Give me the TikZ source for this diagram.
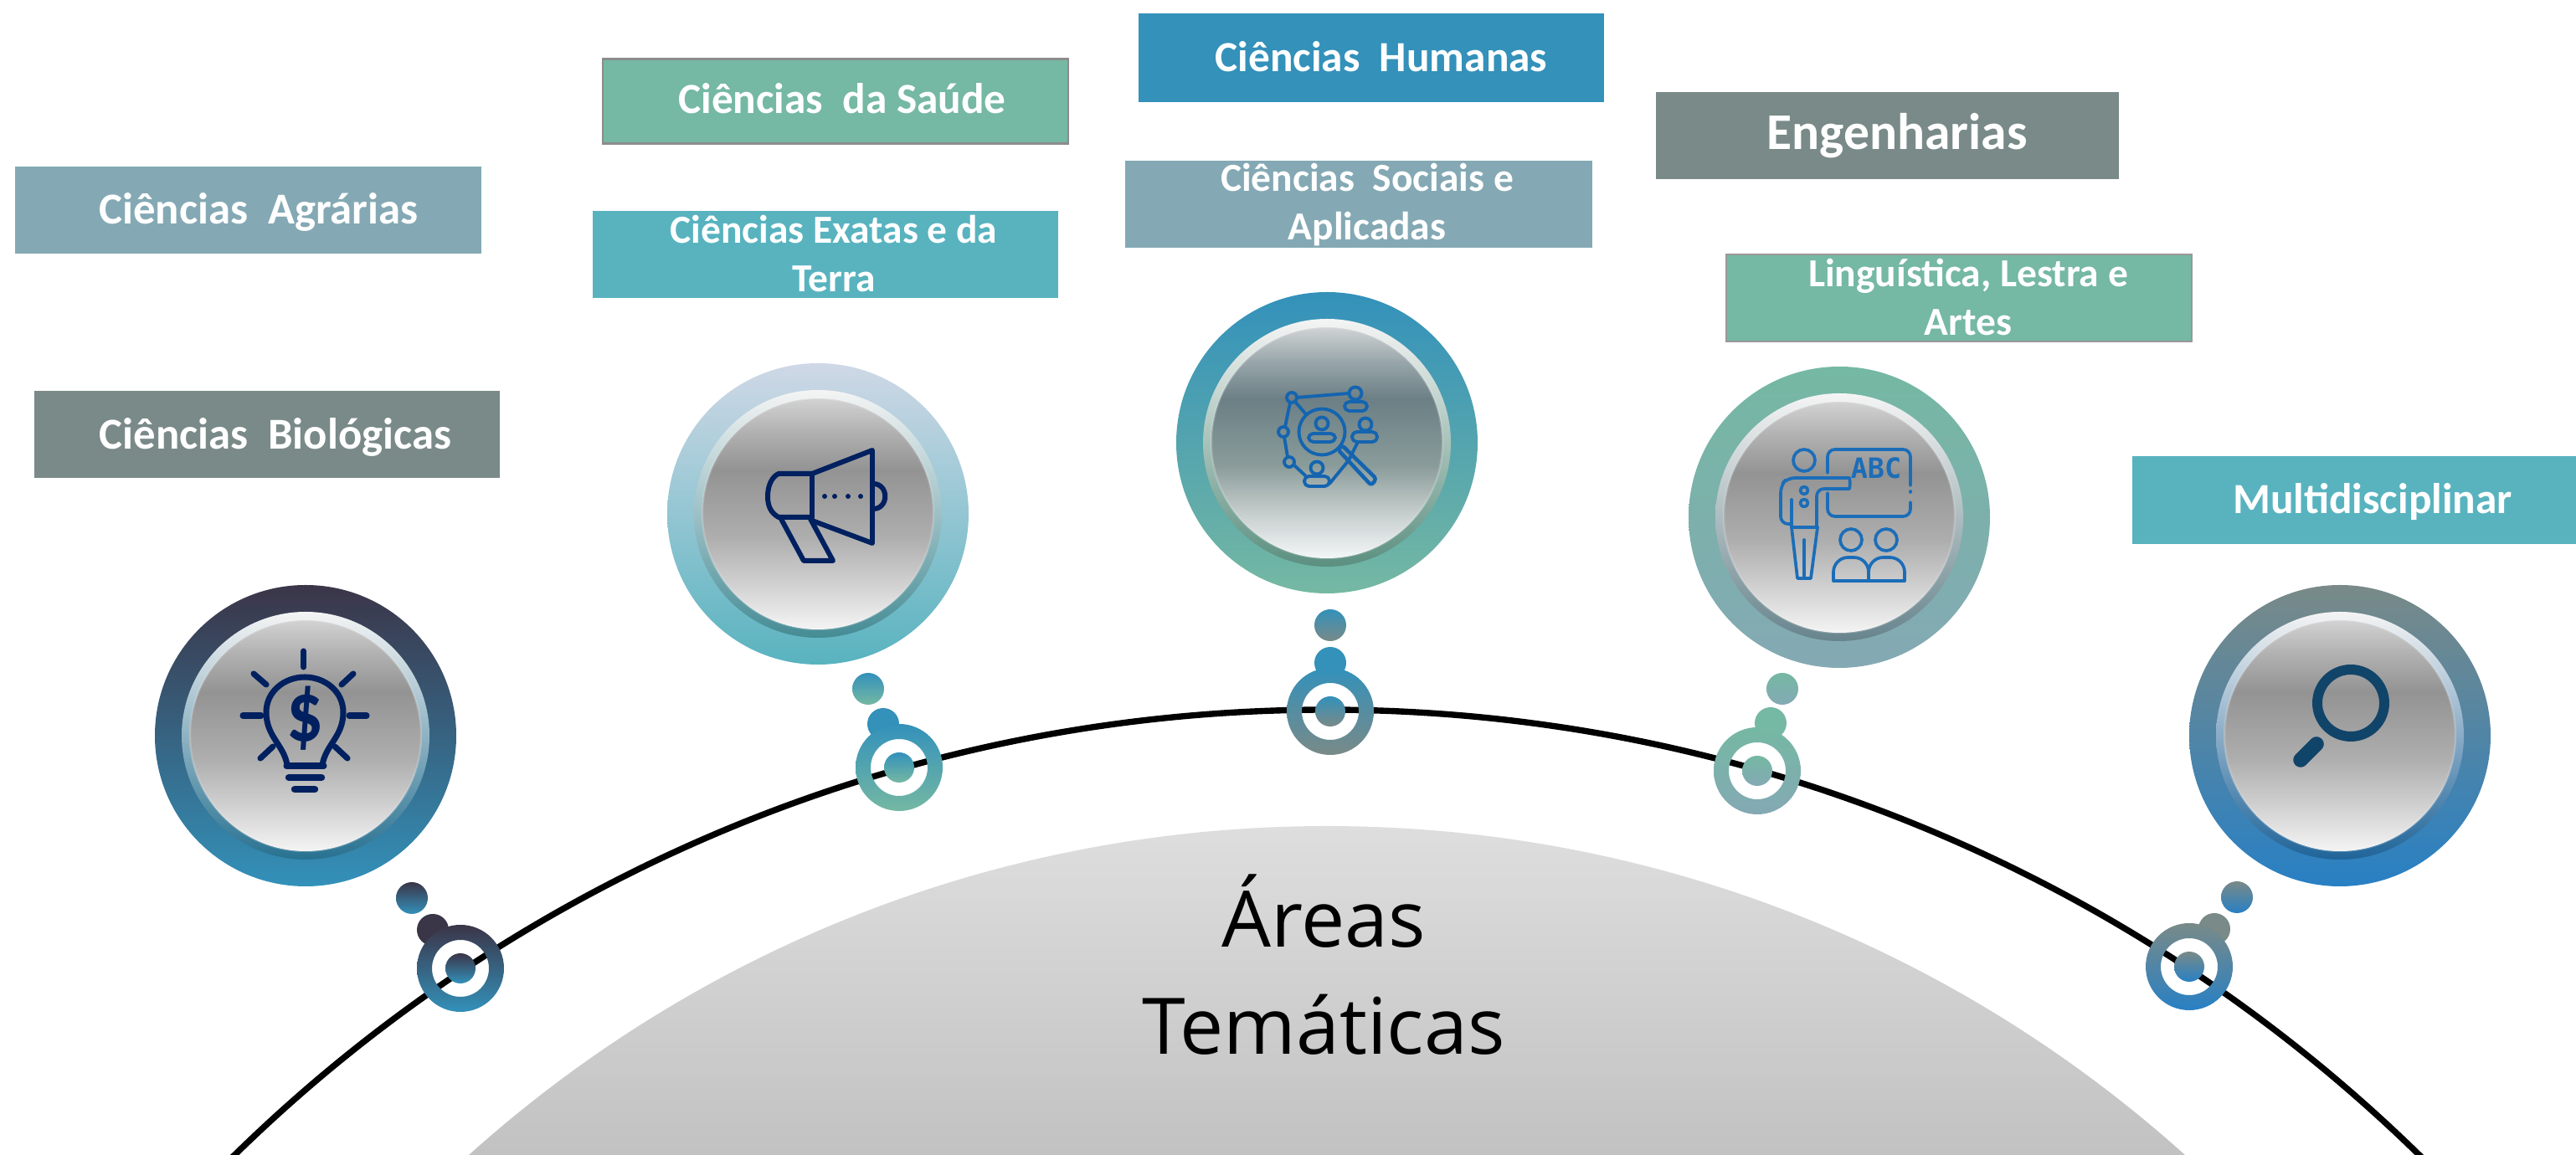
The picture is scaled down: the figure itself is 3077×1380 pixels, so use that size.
\documentclass[tikz,border=0pt]{standalone}
\usepackage{fontspec}
\setmainfont{Carlito}
\newfontfamily\areafont{Open Sans}
\newfontfamily\abcfont{DejaVu Sans Mono}
\definecolor{cDark}{HTML}{3B3548}
\definecolor{cBlue}{HTML}{3391BA}
\definecolor{cPale}{HTML}{CFD8E6}
\definecolor{cTeal}{HTML}{58B3BF}
\definecolor{cGreen}{HTML}{75B8A3}
\definecolor{cSlate}{HTML}{84A9B4}
\definecolor{cGrey}{HTML}{798A88}
\definecolor{cStrong}{HTML}{2880C4}
\definecolor{cNavy}{HTML}{00205F}
\definecolor{cNet}{HTML}{1464B0}
\definecolor{cTeach}{HTML}{1B6DB8}
\definecolor{cLens}{HTML}{114469}
\definecolor{bA}{HTML}{F4F4F4}
\definecolor{bB}{HTML}{D0D0D0}
\definecolor{bC}{HTML}{AEAEAE}
\definecolor{bD}{HTML}{939393}
\definecolor{bE}{HTML}{B0B0B0}
\definecolor{bF}{HTML}{D2D2D2}
\definecolor{tA}{HTML}{F3F6F6}
\definecolor{tB}{HTML}{C5CDCC}
\definecolor{tC}{HTML}{8A9C9A}
\definecolor{tD}{HTML}{6B7F85}
\definecolor{tE}{HTML}{98A6AA}
\definecolor{tF}{HTML}{D0D3D5}
\definecolor{rimMid}{HTML}{8E9A9E}
\pgfdeclareverticalshading{btngrey}{100bp}{color(0bp)=(bA);color(25bp)=(bA);color(35bp)=(bB);color(45bp)=(bC);color(59.5bp)=(bD);color(67.5bp)=(bE);color(75bp)=(bF);color(100bp)=(bF)}
\pgfdeclareverticalshading{btntint}{100bp}{color(0bp)=(tA);color(25bp)=(tA);color(35bp)=(tB);color(45bp)=(tC);color(59.5bp)=(tD);color(67.5bp)=(tE);color(75bp)=(tF);color(100bp)=(tF)}
\tikzset{
  boxst/.style={rectangle,draw=none,inner sep=0pt,outer sep=0pt},
  boxedge/.style={boxst,draw=#1,line width=.6pt},
  lbl/.style={text=white,font=\fontsize{14.6}{16.5}\selectfont\bfseries,inner sep=0pt,anchor=base,align=center},
  lblwide/.style={text=white,font=\fontsize{15}{16.5}\selectfont\bfseries,inner sep=0pt,anchor=base},
  lblbig/.style={text=white,font=\fontsize{17.5}{18}\selectfont\bfseries,inner sep=0pt,anchor=base},
  lbltwo/.style={text=white,font=\fontsize{13.5}{16.5}\selectfont\bfseries,inner sep=0pt,anchor=center,align=center},
  ttl/.style={text=black,font=\areafont\fontsize{26.5}{30}\selectfont,inner sep=0pt,anchor=base},
  ico/.style={line width=#1,line cap=round,line join=round},
}
\newcommand\bigring[6]{%
  \shade[top color=#3,bottom color=#4] (#1,#2) circle (180);
  \shade[top color=bA,middle color=rimMid,bottom color=#5!78!black] (#1,#2) circle (148);
  \shade[shading=#6] (#1,#2) circle (138);
  \draw[white,opacity=.2,line width=.7pt] (#1,#2) circle (138);
}
\newcommand\smallring[8]{%
  \fill[#7] (#3,#4) circle (19);
  \shade[even odd rule,top color=#7,bottom color=#8] (#1,#2) circle (52) circle (34);
  \shade[top color=#7,bottom color=#8] (#1,#2) circle (18);
  \shade[top color=#7,bottom color=#8] (#5,#6) circle (19);
}
\newcommand\netperson[6]{%
  \draw (#1,#2) circle (7.5);
  \draw[rounded corners=1.6pt] (#3,#6) -- (#4,#6) -- (#4,#5) -- (#3,#5) -- cycle;
}
\begin{document}
\begin{tikzpicture}[x=0.01cm,y=-0.01cm]
\useasboundingbox (0,0) rectangle (3077,1380);
\begin{scope}
\clip (0,0) rectangle (3077,1380);
% dome and arc
\begin{scope}
\clip (1585,2520) circle (1533);
\shade[top color=black!13,bottom color=black!24] (500,987) rectangle (2680,1380);
\end{scope}
\draw[black,line width=2.1pt] (1585,2714) circle (1866);
\end{scope}
\node[ttl] (tA) at (1581,1132) {Áreas};
\node[ttl] (tB) at (1581,1260) {Temáticas};

% boxes
\node[boxst,fill=cSlate,minimum width=5.57cm,minimum height=1.04cm] (bAgr) at (296.5,251) {};
\node[boxst,fill=cGrey,minimum width=5.56cm,minimum height=1.04cm] (bBio) at (319,519) {};
\node[boxedge=black!45,fill=cGreen,minimum width=5.56cm,minimum height=1.01cm] (bSau) at (998,121) {};
\node[boxst,fill=cTeal,minimum width=5.56cm,minimum height=1.03cm] (bExa) at (986,304) {};
\node[boxst,fill=cBlue,minimum width=5.56cm,minimum height=1.06cm] (bHum) at (1638,69) {};
\node[boxst,fill=cSlate,minimum width=5.58cm,minimum height=1.04cm] (bSoc) at (1623,244) {};
\node[boxst,fill=cGrey,minimum width=5.53cm,minimum height=1.04cm] (bEng) at (2254.5,162) {};
\node[boxedge=black!40,fill=cGreen,minimum width=5.56cm,minimum height=1.04cm] (bLin) at (2340,356) {};
\node[boxst,fill=cTeal,minimum width=5.35cm,minimum height=1.05cm] (bMul) at (2814.5,597.5) {};

\node[lblwide] (lAgr) at (309,268) {Ciências\ \ Agrárias};
\node[lblwide] (lBio) at (329,537) {Ciências\ \ Biológicas};
\node[lbl] (lSau) at (1006,136) {Ciências\ \ da Saúde};
\node[lbltwo] (lExa) at (996,303) {Ciências Exatas e da\\Terra};
\node[lbl] (lHum) at (1650,86) {Ciências\ \ Humanas};
\node[lbltwo] (lSoc) at (1633,245) {Ciências\ \ Sociais e\\Aplicadas};
\node[lblbig] (lEng) at (2266,179) {Engenharias};
\node[lbltwo] (lLin) at (2351,355) {Linguística, Lestra e\\Artes};
\node[lbl] (lMul) at (2834,614) {Multidisciplinar};

% rings
\bigring{365}{879}{cDark}{cBlue}{cBlue}{btngrey}
\bigring{977}{614}{cPale}{cTeal}{cTeal}{btngrey}
\bigring{1585}{529}{cBlue}{cGreen}{cGreen}{btntint}
\bigring{2197}{618}{cGreen}{cSlate}{cSlate}{btngrey}
\bigring{2795}{879}{cGrey}{cStrong}{cStrong}{btngrey}

\smallring{550}{1157}{517}{1111}{492}{1073}{cDark}{cBlue}
\smallring{1074}{917}{1055}{865}{1037}{823}{cBlue}{cGreen}
\smallring{1589}{850}{1589}{792}{1589}{747}{cBlue}{cGrey}
\smallring{2099}{921}{2115}{864}{2129}{823}{cGreen}{cSlate}
\smallring{2615}{1155}{2645}{1110}{2672}{1072}{cGrey}{cStrong}

% bulb icon
\begin{scope}[draw=cNavy,ico=2pt]
\draw (362.7,778) -- (362.7,797);
\draw (303,805) -- (318,818);
\draw (422,805) -- (408,818);
\draw (290,855) -- (312,855);
\draw (417,855) -- (438,855);
\draw (311,906) -- (326,892);
\draw (415,906) -- (400,892);
\draw (343,914) .. controls (339,890) and (318,880) .. (318,851)
      .. controls (318,826) and (340,809) .. (364,809)
      .. controls (388,809) and (410,826) .. (410,851)
      .. controls (410,880) and (389,890) .. (385,914);
\draw (342,915) -- (387,915);
\draw[line width=2.4pt] (345,929) -- (384,929);
\draw[line width=2.4pt] (352,943) -- (376,943);
\end{scope}
\node[text=cNavy,font=\fontsize{29}{29}\selectfont\bfseries,inner sep=0pt,xscale=.85] (dol) at (364,858) {\$};

% megaphone icon
\begin{scope}[draw=cNavy,ico=1.7pt]
\draw (970,566) -- (1042,538) -- (1042,649) -- (970,622);
\draw (970,566) -- (970,618);
\draw (970,566) -- (930,566) .. controls (921,570) and (917,582) .. (917,593)
      .. controls (917,605) and (921,613) .. (930,618) -- (970,618);
\draw (933,620) -- (960,670) -- (995,670) -- (968,620);
\draw (1043,578) .. controls (1062,578) and (1062,608) .. (1043,608);
\end{scope}
\foreach \dx in {985,997,1013,1028} \fill[cNavy] (\dx,593) circle (3);

% network icon
\begin{scope}[draw=cNet,ico=1.1pt]
\draw (1543,475) circle (6);
\draw (1533,516) circle (6);
\draw (1540,552) circle (6);
\draw (1579,516) circle (27.5);
\draw[line width=1.3pt,rounded corners=1pt] (1598,537) -- (1603,532) -- (1644,572) -- (1638,580) -- cycle;
\netperson{1579}{506}{1563}{1595}{518}{528}
\netperson{1619}{470}{1606}{1633}{480}{491}
\netperson{1631}{507}{1615}{1645}{516}{528}
\netperson{1573}{559}{1558}{1588}{569}{581}
\draw (1549,475) -- (1611,470);
\draw (1547,480) -- (1560,495);
\draw (1541,481) -- (1535,510);
\draw (1534,522) -- (1538,546);
\draw (1546,556) -- (1560,569);
\draw (1588,578) -- (1611,550) -- (1622,528);
\end{scope}

% teacher icon
\begin{scope}[draw=cTeach,ico=1.05pt]
\draw (2155,550) circle (13);
\draw[rounded corners=2.5pt] (2183,565) -- (2183,537) -- (2282,537) -- (2282,580);
\draw (2282,587) -- (2282,588);
\draw[rounded corners=2.5pt] (2282,600) -- (2282,617) -- (2183,617) -- (2183,589);
\draw[rounded corners=2.5pt] (2170,630) -- (2170,584) -- (2200,584)
      .. controls (2210,584) and (2210,571) .. (2200,571) -- (2135,571)
      -- (2127,580) -- (2127,626) -- (2138,626);
\draw (2140,597) -- (2140,630);
\draw (2140,630) -- (2171,630);
\draw (2140,630) -- (2147,691) -- (2163,691) -- (2171,630);
\draw (2155,645) -- (2155,691);
\draw (2155,586) circle (4.5);
\draw (2155,601) circle (4.5);
\draw (2211,645) circle (13);
\draw (2253,645) circle (13);
\draw (2190,694) -- (2275,694);
\draw[rounded corners=5pt] (2190,694) -- (2190,666) -- (2232,666) -- (2232,694);
\draw[rounded corners=5pt] (2232,694) -- (2232,666) -- (2275,666) -- (2275,694);
\end{scope}
\node[text=cTeach,font=\abcfont\fontsize{9.5}{9.5}\selectfont\bfseries,inner sep=0pt] (abc) at (2241,559) {ABC};

% lens icon
\draw[cLens,line width=3.4pt] (2808,840) circle (40);
\draw[cLens,line width=5pt,line cap=round] (2748,908) -- (2767,889);
\end{tikzpicture}
\end{document}
